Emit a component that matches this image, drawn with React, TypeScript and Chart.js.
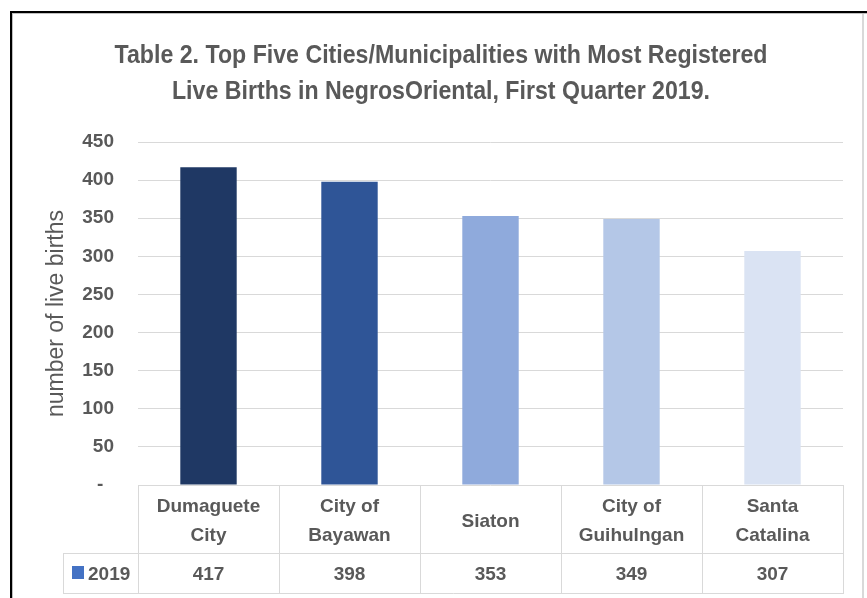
import React, { useEffect, useRef } from "react";
import { Chart, registerables } from "chart.js";

Chart.register(...registerables);

const categories: string[][] = [
  ["Dumaguete", "City"],
  ["City of", "Bayawan"],
  ["Siaton"],
  ["City of", "Guihulngan"],
  ["Santa", "Catalina"],
];
const seriesName = "2019";
const values2019 = [417, 398, 353, 349, 307];
const barColors = ["#1F3864", "#2F5597", "#8FAADC", "#B4C7E7", "#DAE3F3"];
const seriesColor = "#4472C4";
const titleLines = [
  "Table 2. Top Five Cities/Municipalities with Most Registered",
  "Live Births in NegrosOriental, First Quarter 2019.",
];
const yAxisTitle = "number of live births";
const yMin = 0;
const yMax = 450;
const yStep = 50;

const FONT = '"Liberation Sans", Arial, sans-serif';
const TEXT = "#595959";
const LINE = "#D9D9D9";

const framePlugin = {
  id: "frameAndTitle",
  beforeDraw(chart: any) {
    const { ctx, width, height } = chart;
    ctx.save();
    ctx.fillStyle = "#ffffff";
    ctx.fillRect(0, 0, width, height);
    ctx.fillStyle = "#D9D9D9";
    ctx.fillRect(862, 13, 2, height - 13);
    ctx.fillStyle = "#BFBFBF";
    ctx.fillRect(12, 13, width - 12, 1);
    ctx.fillRect(12, 13, 1, height - 13);
    ctx.fillStyle = "#000000";
    ctx.fillRect(10, 11, width - 10, 2);
    ctx.fillRect(10, 11, 2, height - 11);

    ctx.fillStyle = TEXT;
    ctx.font = "bold 26px " + FONT;
    ctx.textAlign = "center";
    ctx.textBaseline = "alphabetic";
    const w = ctx.measureText(titleLines[0]).width;
    const sx = 653 / w;
    const cx = 441;
    const baselines = [63, 99];
    titleLines.forEach((line, i) => {
      ctx.save();
      ctx.translate(cx, baselines[i]);
      ctx.scale(sx, 1);
      ctx.fillText(line, 0, 0);
      ctx.restore();
    });
    ctx.restore();
  },
};

const tablePlugin = {
  id: "dataTable",
  afterDraw(chart: any) {
    const { ctx, chartArea } = chart;
    const xs = chart.scales.x;
    const n = categories.length;
    const top = Math.round(chartArea.bottom);
    const row1Bottom = 553;
    const row2Bottom = 593;
    const legendLeft = 63;
    const right = Math.round(chartArea.right);
    ctx.save();
    ctx.strokeStyle = LINE;
    ctx.lineWidth = 1;
    ctx.beginPath();
    for (let i = 0; i <= n; i++) {
      const bx = Math.round(xs.getPixelForValue(i - 0.5)) + 0.5;
      ctx.moveTo(bx, top);
      ctx.lineTo(bx, row2Bottom);
    }
    ctx.moveTo(legendLeft, row1Bottom + 0.5);
    ctx.lineTo(right, row1Bottom + 0.5);
    ctx.moveTo(legendLeft, row2Bottom + 0.5);
    ctx.lineTo(right + 1, row2Bottom + 0.5);
    ctx.moveTo(legendLeft + 0.5, row1Bottom);
    ctx.lineTo(legendLeft + 0.5, row2Bottom);
    ctx.stroke();

    ctx.fillStyle = TEXT;
    ctx.textAlign = "center";
    ctx.textBaseline = "alphabetic";
    ctx.font = "bold 19px " + FONT;
    categories.forEach((lines, i) => {
      const cx = xs.getPixelForValue(i);
      if (lines.length === 1) {
        ctx.fillText(lines[0], cx, 527);
      } else {
        ctx.fillText(lines[0], cx, 512);
        ctx.fillText(lines[1], cx, 541);
      }
    });
    ctx.font = "bold 19px " + FONT;
    values2019.forEach((v, i) => {
      ctx.fillText(String(v), xs.getPixelForValue(i), 580);
    });
    ctx.fillStyle = seriesColor;
    ctx.fillRect(72, 566, 12, 13);
    ctx.fillStyle = TEXT;
    ctx.textAlign = "left";
    ctx.fillText(seriesName, 88, 580);
    ctx.restore();
  },
};

export default function App() {
  const ref = useRef<HTMLCanvasElement | null>(null);
  useEffect(() => {
    if (!ref.current) return;
    const chart = new Chart(ref.current, {
      type: "bar",
      data: {
        labels: categories.map((c) => c.join(" ")),
        datasets: [
          {
            label: seriesName,
            data: values2019,
            backgroundColor: barColors,
            borderWidth: 0,
            barPercentage: 0.4,
            categoryPercentage: 1,
          },
        ],
      },
      options: {
        responsive: false,
        animation: false,
        devicePixelRatio: 1,
        layout: { padding: { top: 142, bottom: 113, left: 12, right: 24 } },
        plugins: {
          legend: { display: false },
          tooltip: { enabled: false },
          title: { display: false },
        },
        scales: {
          x: { display: false },
          y: {
            min: yMin,
            max: yMax,
            afterFit(scale: any) {
              scale.width = 126;
            },
            border: { display: false },
            grid: { color: LINE, drawTicks: false, lineWidth: 1 },
            ticks: {
              stepSize: yStep,
              padding: 24,
              color: TEXT,
              font: { family: FONT, size: 19, weight: "bold" },
              callback: (v: any) => (Number(v) === 0 ? "-  " : String(v)),
            },
            title: {
              display: true,
              text: yAxisTitle,
              color: TEXT,
              font: { family: FONT, size: 23, weight: "normal" },
              padding: { top: 31, bottom: 0 },
            },
          },
        },
      },
      plugins: [framePlugin, tablePlugin],
    });
    return () => chart.destroy();
  }, []);
  return (
    <div style={{ position: "absolute", left: 0, top: 0 }}>
      <canvas ref={ref} width={867} height={598} style={{ display: "block" }} />
    </div>
  );
}
